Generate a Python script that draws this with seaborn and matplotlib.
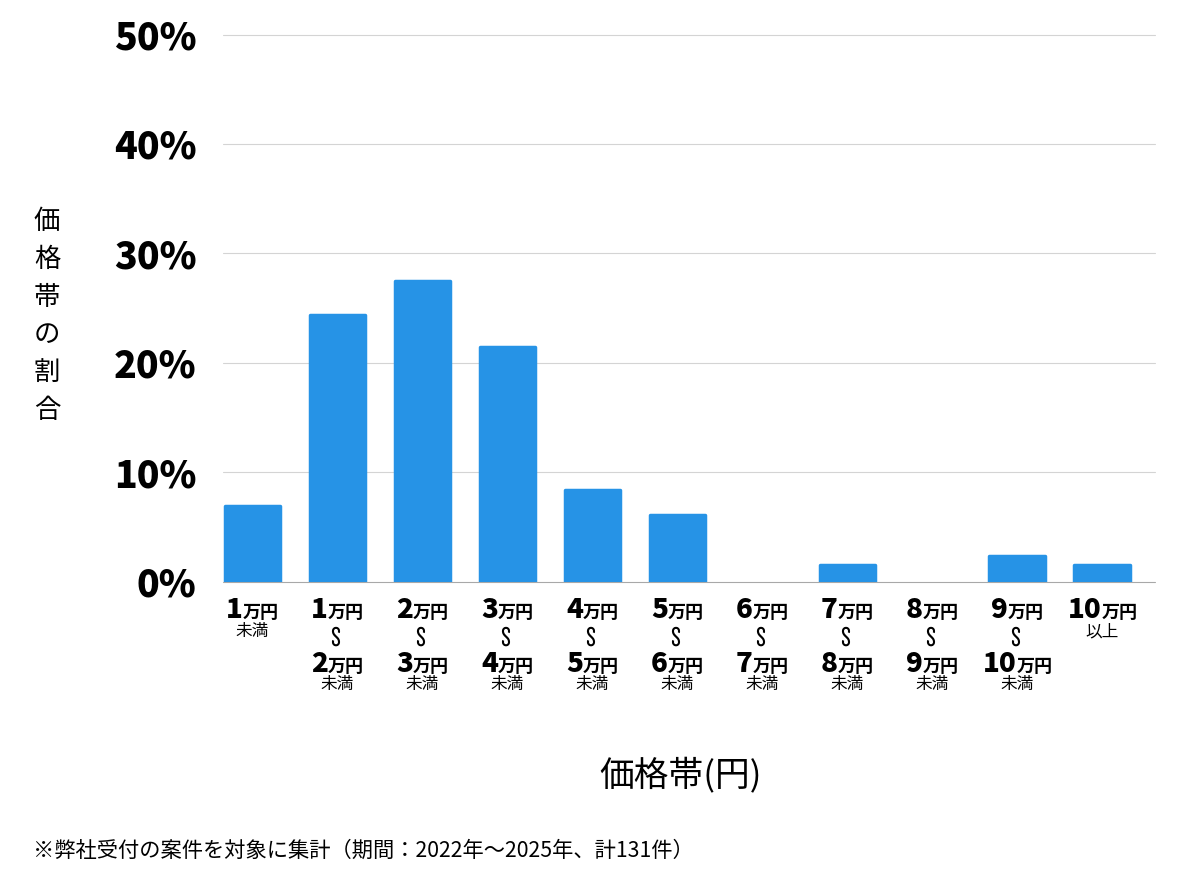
import matplotlib
matplotlib.use("Agg")
import matplotlib.pyplot as plt
import matplotlib.transforms as mtransforms
import seaborn as sns
import pandas as pd

# ---------------- data ----------------
categories = ["1万円未満", "1万円〜2万円未満", "2万円〜3万円未満", "3万円〜4万円未満",
              "4万円〜5万円未満", "5万円〜6万円未満", "6万円〜7万円未満", "7万円〜8万円未満",
              "8万円〜9万円未満", "9万円〜10万円未満", "10万円以上"]
shares = [6.9, 24.4, 27.5, 21.4, 8.4, 6.1, 0.0, 1.5, 0.0, 2.3, 1.5]
label_from = ["1", "1", "2", "3", "4", "5", "6", "7", "8", "9", "10"]
label_to = [None, "2", "3", "4", "5", "6", "7", "8", "9", "10", None]
label_note = ["未満"] * 10 + ["以上"]
unit = "万円"
y_ticks = [0, 10, 20, 30, 40, 50]
y_tick_labels = ["0%", "10%", "20%", "30%", "40%", "50%"]
y_title = "価格帯の割合"
x_title = "価格帯(円)"
footnote = "※弊社受付の案件を対象に集計（期間：2022年〜2025年、計131件）"

BAR = "#2693E6"

sns.set_theme(style="white")
plt.rcParams["font.family"] = ["Noto Sans CJK JP", "DejaVu Sans"]

W, H = 1200, 874
fig = plt.figure(figsize=(W / 100, H / 100), dpi=100)
ax = fig.add_axes([223 / W, 1 - 581.5 / H, 932 / W, 547 / H])

df = pd.DataFrame({"band": categories, "share": shares})
sns.barplot(data=df, x="band", y="share", color=BAR, saturation=1, width=0.655, ax=ax, zorder=3)

for p in ax.patches:
    if p.get_height() > 0:
        p.set_edgecolor(BAR)
        p.set_linewidth(2.5)
        p.set_joinstyle("round")
    else:
        p.set_linewidth(0)

ax.set_ylim(0, 50)
ax.set_xlim(-0.347, 10.62)
ax.set_yticks(y_ticks, y_tick_labels)
ax.tick_params(axis="y", length=0, pad=19, labelsize=27, colors="black")
for lbl in ax.get_yticklabels():
    lbl.set_fontweight("black")
ax.set_xticks(range(len(categories)))
ax.set_xticklabels([])
ax.tick_params(axis="x", length=0)
ax.set_xlabel("")
ax.set_ylabel("")
for s in ax.spines.values():
    s.set_visible(False)
ax.yaxis.grid(True, color="#d4d4d4", linewidth=0.8)
gl = ax.get_ygridlines()
for g in gl:
    g.set_clip_on(False)
gl[0].set_color("#a8a8a8")
gl[0].set_zorder(4)
ax.set_axisbelow(True)

fig.canvas.draw()
renderer = fig.canvas.get_renderer()
trans = mtransforms.blended_transform_factory(ax.transData, fig.transFigure)


def yf(p):
    return 1 - p / H


def composite(i, num, ybase):
    t1 = ax.text(i, yf(ybase), num, transform=trans, fontsize=20, fontweight="black",
                 ha="right", va="baseline", color="black")
    t2 = ax.text(i, yf(ybase), unit, transform=trans, fontsize=13, fontweight="bold",
                 ha="left", va="baseline", color="black")
    w1 = t1.get_window_extent(renderer).width
    w2 = t2.get_window_extent(renderer).width
    off = mtransforms.ScaledTranslation((w1 - w2) / 2 / fig.dpi, 0, fig.dpi_scale_trans)
    t1.set_transform(trans + off)
    t2.set_transform(trans + off)


for i in range(len(categories)):
    composite(i, label_from[i], 618)
    if label_to[i] is None:
        ax.text(i, yf(636), label_note[i], transform=trans, fontsize=12,
                ha="center", va="baseline", color="black")
    else:
        ax.text(i, yf(635.5), "∽", transform=trans, fontsize=15, fontweight="bold",
                rotation=90, ha="center", va="center", color="black")
        composite(i, label_to[i], 672)
        ax.text(i, yf(689), label_note[i], transform=trans, fontsize=12,
                ha="center", va="baseline", color="black")

# vertical y title
y0, step = 221.7, 37.7
for k, ch in enumerate(y_title):
    fig.text(47 / W, yf(y0 + k * step), ch, fontsize=19, ha="center", va="center", color="black")

fig.text(681 / W, yf(775), x_title, fontsize=25, ha="center", va="center", color="black")
fig.text(33 / W, yf(851), footnote, fontsize=15.3, ha="left", va="center", color="black")

fig.savefig("out.png", dpi=100, facecolor="white")
